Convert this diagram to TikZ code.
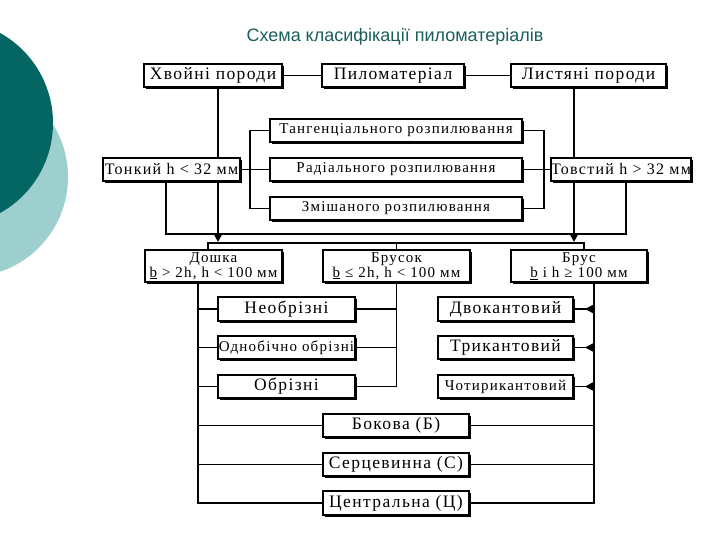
\documentclass[tikz,border=0pt]{standalone}
\usepackage{fontspec}
\setmainfont{Liberation Serif}[LetterSpace=8]
\newfontfamily\titlefont{Liberation Sans}
\usetikzlibrary{arrows.meta,shadows,calc}
\definecolor{tealdark}{HTML}{046662}
\definecolor{teallight}{HTML}{9CCFCD}
\definecolor{titlecol}{HTML}{1B5E5E}
\pgfdeclarelayer{back}
\pgfdeclarelayer{bg}
\pgfsetlayers{back,bg,main}
\begin{document}
\begin{tikzpicture}[x=1pt,y=-1pt,
  box/.style={draw=black, line width=1.5pt, fill=white, inner sep=0pt, align=center,
    font=\fontsize{15}{13.5}\selectfont,
    drop shadow={shadow xshift=1.6pt, shadow yshift=-1.6pt, fill=black, opacity=1}},
  bigtext/.style={font=\fontsize{17.5}{15}\selectfont},
  midtext/.style={font=\fontsize{16}{15}\selectfont},
  ln/.style={line width=1.6pt},
  thk/.style={line width=2.6pt},
  tip/.style={-{Triangle[length=8pt,width=8pt]}}]
\useasboundingbox (0,0) rectangle (720,540);
\begin{pgfonlayer}{back}
\fill[white] (0,0) rectangle (720,540);
\fill[teallight] (-32,177) circle[radius=100];
\fill[tealdark] (-50,123) circle[radius=103];
\end{pgfonlayer}
\node[font=\titlefont\fontsize{18}{20}\selectfont, text=titlecol] (title) at (395,37) {Схема класифікації пиломатеріалів};
% top row
\node[box, bigtext, minimum width=138pt, minimum height=23pt] (khv) at (213,75.5) {Хвойні породи};
\node[box, bigtext, minimum width=142pt, minimum height=23pt] (pylo) at (393,75.5) {Пиломатеріал};
\node[box, bigtext, minimum width=155pt, minimum height=23pt] (lyst) at (588.5,75.5) {Листяні породи};
% sawing
\node[box, minimum width=252pt, minimum height=23pt] (tang) at (396,130.5) {Тангенціального розпилювання};
\node[box, minimum width=252pt, minimum height=23pt] (rad) at (396,169.5) {Радіального розпилювання};
\node[box, minimum width=252pt, minimum height=23pt] (zmish) at (396,208.5) {Змішаного розпилювання};
\node[box, midtext, minimum width=137pt, minimum height=23pt] (tonk) at (171.5,169.5) {Тонкий h < 32 мм};
\node[box, midtext, minimum width=136pt, minimum height=23pt] (tovst) at (621,169.5) {Товстий h > 32 мм};
% kinds
\node[box, minimum width=137pt, minimum height=32pt] (doshka) at (213.5,266) {Дошка\\\underline{b} > 2h, h < 100 мм};
\node[box, minimum width=147pt, minimum height=32pt] (brusok) at (396.5,266) {Брусок\\\underline{b} ≤ 2h, h < 100 мм};
\node[box, minimum width=136pt, minimum height=32pt] (brus) at (579,266) {Брус\\\underline{b} і h ≥ 100 мм};
% left group
\node[box, bigtext, minimum width=137pt, minimum height=24pt] (neobr) at (286.5,309) {Необрізні};
\node[box, minimum width=137pt, minimum height=23pt] (odnob) at (286.5,347.5) {Однобічно обрізні};
\node[box, bigtext, minimum width=137pt, minimum height=23pt] (obr) at (286.5,386.5) {Обрізні};
% right group
\node[box, bigtext, minimum width=135pt, minimum height=24pt] (dvok) at (505.5,309) {Двокантовий};
\node[box, bigtext, minimum width=135pt, minimum height=23pt] (trik) at (505.5,347.5) {Трикантовий};
\node[box, minimum width=135pt, minimum height=23pt] (chot) at (505.5,386.5) {Чотирикантовий};
% bottom group
\node[box, bigtext, minimum width=146pt, minimum height=23pt] (bok) at (396,425.5) {Бокова (Б)};
\node[box, bigtext, minimum width=146pt, minimum height=23pt] (serc) at (396,464.5) {Серцевинна (С)};
\node[box, bigtext, minimum width=146pt, minimum height=24pt] (centr) at (396,503) {Центральна (Ц)};
\begin{pgfonlayer}{bg}
\draw[ln] (khv) -- (pylo);
\draw[ln] (pylo) -- (lyst);
\coordinate (ka) at (218,242);
\coordinate (la) at (574,242);
\draw[thk,tip] (khv.south -| ka) -- (ka);
\draw[thk,tip] (lyst.south -| la) -- (la);
\coordinate (busL) at (208,243);
\coordinate (busR) at (584,243);
\draw[thk] (doshka.north -| busL) -- (busL) -- (busR) -- (brus.north -| busR);
\draw[ln] (brusok.north) -- (brusok.north |- busL);
\coordinate (tl) at (166,234);
\coordinate (tr) at (626,234);
\draw[ln] (tonk.south -| tl) -- (tl) -- (tr) -- (tovst.south -| tr);
\coordinate (lb) at (250,0);
\coordinate (rb) at (544,0);
\draw[ln] (tang.west) -| (lb |- zmish.west) -- (zmish.west);
\draw[ln] (tonk.east) -- (rad.west);
\draw[ln] (tang.east) -| (rb |- zmish.east) -- (zmish.east);
\draw[ln] (rad.east) -- (tovst.west);
\coordinate (dl) at (198,0);
\draw[ln] (doshka.south -| dl) |- (centr.west);
\foreach \n in {neobr,odnob,obr,bok,serc} \draw[ln] (dl |- \n.west) -- (\n.west);
\draw[ln] (brusok.south) |- (obr.east);
\foreach \n in {neobr,odnob} \draw[ln] (\n.east) -- (brusok.south |- \n.east);
\coordinate (rl) at (594,0);
\draw[ln] (brus.south -| rl) |- (centr.east);
\foreach \n in {dvok,trik,chot} {
  \draw[ln] (rl |- \n.east) -- (\n.east);
  \draw[ln,tip] (rl |- \n.east) -- ++(-9,0);
}
\foreach \n in {bok,serc} \draw[ln] (rl |- \n.east) -- (\n.east);
\end{pgfonlayer}
\end{tikzpicture}
\end{document}
